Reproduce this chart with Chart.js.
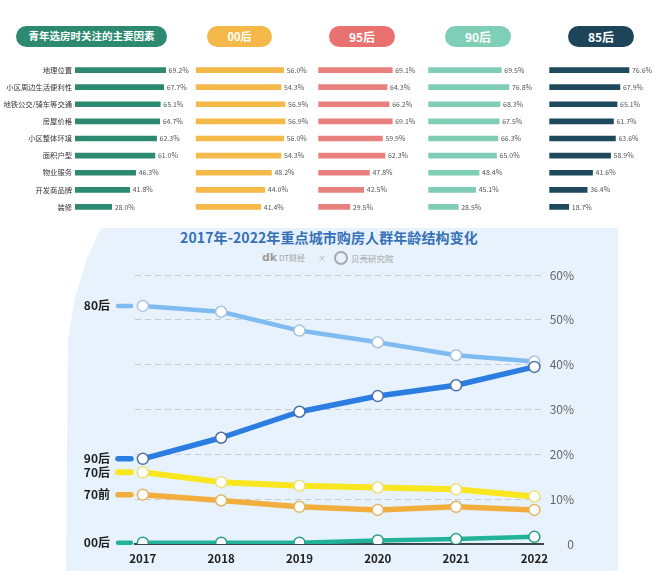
<!DOCTYPE html>
<html><head><meta charset="utf-8">
<script src="https://cdn.jsdelivr.net/npm/chart.js@4.4.1/dist/chart.umd.min.js"></script>
<style>
html,body{margin:0;padding:0;background:#fff;}
body{width:660px;height:576px;position:relative;overflow:hidden;font-family:"Noto Sans CJK SC","Noto Sans",sans-serif;}
.pill{position:absolute;top:26px;height:21px;border-radius:11px;color:#fff;font-weight:bold;display:flex;align-items:center;justify-content:center;line-height:1;}
canvas{position:absolute;}
#panel{position:absolute;left:0;top:228px;width:660px;height:348px;background:#e8f2fc;clip-path:polygon(101px 0,618px 0,618px 343px,66px 343px,68px 110px,75px 70px,87px 30px);}
.t{position:absolute;white-space:nowrap;line-height:1;}
</style></head>
<body>
<div id="panel"></div>
<div class="pill" style="left:16px;width:151px;background:#2d8a70;font-size:10.5px">青年选房时关注的主要因素</div>
<div class="pill" style="left:207px;width:65px;background:#f5b94a;font-size:11px">00后</div>
<div class="pill" style="left:329px;width:66px;background:#e9716f;font-size:12px">95后</div>
<div class="pill" style="left:445px;width:66px;background:#7fcfb6;font-size:12px">90后</div>
<div class="pill" style="left:568px;width:66px;background:#1d4459;font-size:12px">85后</div>

<div class="t" style="left:129px;width:400px;top:230px;text-align:center;font-size:14px;font-weight:bold;color:#3670b6;letter-spacing:0.1px">2017年-2022年重点城市购房人群年龄结构变化</div>
<div class="t" style="left:262px;top:252px;font-size:11px;font-weight:bold;color:#9d9d9d;font-family:'DejaVu Sans'">dk</div>
<div class="t" style="left:279px;top:254px;font-size:8px;color:#a5a5a5">DT财经</div>
<div class="t" style="left:318px;top:254px;font-size:8px;color:#b0b0b0">×</div>
<div class="t" style="left:334px;top:251px;width:10px;height:10px;border:2px solid #a9a9a9;border-radius:50%"></div>
<div class="t" style="left:351px;top:254px;font-size:8.5px;color:#a5a5a5">贝壳研究院</div>

<canvas id="c1" width="190" height="225" style="left:0;top:0"></canvas>
<canvas id="c2" width="125" height="225" style="left:190px;top:0"></canvas>
<canvas id="c3" width="115" height="225" style="left:310px;top:0"></canvas>
<canvas id="c4" width="120" height="225" style="left:425px;top:0"></canvas>
<canvas id="c5" width="115" height="225" style="left:545px;top:0"></canvas>
<canvas id="line" width="660" height="348" style="left:0;top:228px"></canvas>

<script>
// ---- data ----
const factors = ['地理位置','小区周边生活便利性','地铁公交/骑车等交通','房屋价格','小区整体环境','面积户型','物业服务','开发商品牌','装修'];
const youthAll = [69.2,67.7,65.1,64.7,62.3,61.0,46.3,41.8,28.0];
const gen00 = [56.0,54.3,56.9,56.9,56.0,54.3,48.2,44.0,41.4];
const gen95 = [69.1,64.3,66.2,69.1,59.9,62.3,47.8,42.5,29.5];
const gen90 = [69.5,76.8,68.3,67.5,66.3,65.0,48.4,45.1,28.5];
const gen85 = [76.6,67.9,65.1,61.7,63.6,58.9,41.6,36.4,18.7];

const years = [2017,2018,2019,2020,2021,2022];
const share80 = [53.1,51.8,47.6,45.0,42.1,40.7];
const share90 = [19.0,23.7,29.5,33.0,35.4,39.5];
const share70 = [16.0,13.8,13.0,12.6,12.2,10.6];
const sharePre70 = [11.0,9.7,8.3,7.6,8.3,7.6];
const share00 = [0.3,0.3,0.3,0.8,1.1,1.6];
const yTicks = [0,10,20,30,40,50,60];

const FAM = '"Noto Sans CJK SC","Noto Sans",sans-serif';

const valueLabels = {
  id:'valueLabels',
  afterDatasetsDraw(chart){
    const ctx = chart.ctx, meta = chart.getDatasetMeta(0), ds = chart.data.datasets[0];
    ctx.save();
    ctx.font = '7px ' + FAM;
    ctx.fillStyle = '#555';
    ctx.textBaseline = 'middle';
    ctx.textAlign = 'left';
    meta.data.forEach((el,i)=>{ ctx.fillText(ds.data[i].toFixed(1)+'%', el.x+3, el.y); });
    ctx.restore();
  }
};

function barChart(id, values, color, max, padL, padR, showLabels){
  const yScale = {display:showLabels, grid:{display:false, drawTicks:false}, border:{display:false},
     ticks:{padding:3, autoSkip:false, color:'#333', font:{size:7.3, family:FAM}}};
  if (showLabels) yScale.afterFit = s=>{ s.width = 75; };
  return new Chart(document.getElementById(id), {
    type:'bar',
    data:{labels:factors, datasets:[{data:values, backgroundColor:color, barThickness:5, borderWidth:0}]},
    options:{
      indexAxis:'y', responsive:false, animation:false,
      layout:{padding:{left:padL, right:padR, top:61.5, bottom:9.5}},
      plugins:{legend:{display:false}, tooltip:{enabled:false}},
      scales:{
        x:{display:false, min:0, max:max},
        y:yScale
      }
    },
    plugins:[valueLabels]
  });
}

barChart('c1', youthAll, '#2d8a70', 84, 0, 5, true);
barChart('c2', gen00, '#f5b94a', 70, 5.7, 9.3, false);
barChart('c3', gen95, '#e8807e', 90, 8.3, 10.4, false);
barChart('c4', gen90, '#80cdb5', 100, 3.3, 11.7, false);
barChart('c5', gen85, '#1f4a5e', 100, 4.3, 6.7, false);

// ---- line chart ----
function pts(arr){ return years.map((yr,i)=>({x:yr, y:arr[i]})); }
function lineDs(label, arr, color, width, ptBorder){
  return {label, data:pts(arr), borderColor:color, backgroundColor:color, borderWidth:width,
    pointRadius:5.5, pointBackgroundColor:'#fff', pointBorderColor:ptBorder, pointBorderWidth:1.5,
    tension:0, borderJoinStyle:'round', clip:{left:12,right:12,top:12,bottom:0}};
}

const sideLabels = {
  id:'sideLabels',
  afterDatasetsDraw(chart){
    const ctx = chart.ctx, ys = chart.scales.y;
    ctx.save();
    chart.data.datasets.forEach(ds=>{
      const py = ys.getPixelForValue(ds.data[0].y);
      ctx.strokeStyle = ds.borderColor;
      ctx.lineWidth = ds.borderWidth;
      ctx.lineCap = 'round';
      ctx.beginPath(); ctx.moveTo(118, py); ctx.lineTo(131, py); ctx.stroke();
      ctx.font = 'bold 12px ' + FAM;
      ctx.fillStyle = '#1e1e1e';
      ctx.textAlign = 'right';
      ctx.textBaseline = 'middle';
      ctx.fillText(ds.label, 110, py);
    });
    ctx.restore();
  }
};

new Chart(document.getElementById('line'), {
  type:'line',
  data:{datasets:[
    lineDs('90后', share90, '#2b7de2', 5.5, '#4a72a8'),
    lineDs('80后', share80, '#7dbbf0', 4.5, '#a9c5df'),
    lineDs('70后', share70, '#f8e61e', 6, '#ece27c'),
    lineDs('70前', sharePre70, '#f2ae3c', 5.5, '#e2b666'),
    lineDs('00后', share00, '#21b29a', 4.5, '#2a9d8a')
  ]},
  options:{
    responsive:false, animation:false,
    layout:{padding:{left:135, right:86, top:47, bottom:0}},
    plugins:{legend:{display:false}, tooltip:{enabled:false}},
    scales:{
      x:{type:'linear', min:2016.9, max:2022.11,
         afterBuildTicks:s=>{ s.ticks = years.map(v=>({value:v})); },
         grid:{display:false, drawTicks:false},
         border:{display:true, color:'#3b4747', width:2},
         ticks:{padding:8, color:'#222', font:{size:11.5, weight:'bold', family:FAM}, callback:v=>String(v)},
         afterFit:s=>{ s.height = 32; }},
      y:{position:'right', min:0, max:60,
         afterBuildTicks:s=>{ s.ticks = yTicks.map(v=>({value:v})); },
         grid:{color:'#c4cbd5', lineWidth:1, drawTicks:false},
         border:{display:false, dash:[6,4]},
         ticks:{padding:8, crossAlign:'far', color:'#666', font:{size:12, family:FAM}, callback:v=>v===0?'0':v+'%'},
         afterFit:s=>{ s.width = 31; }}
    }
  },
  plugins:[sideLabels]
});
</script>
</body></html>
